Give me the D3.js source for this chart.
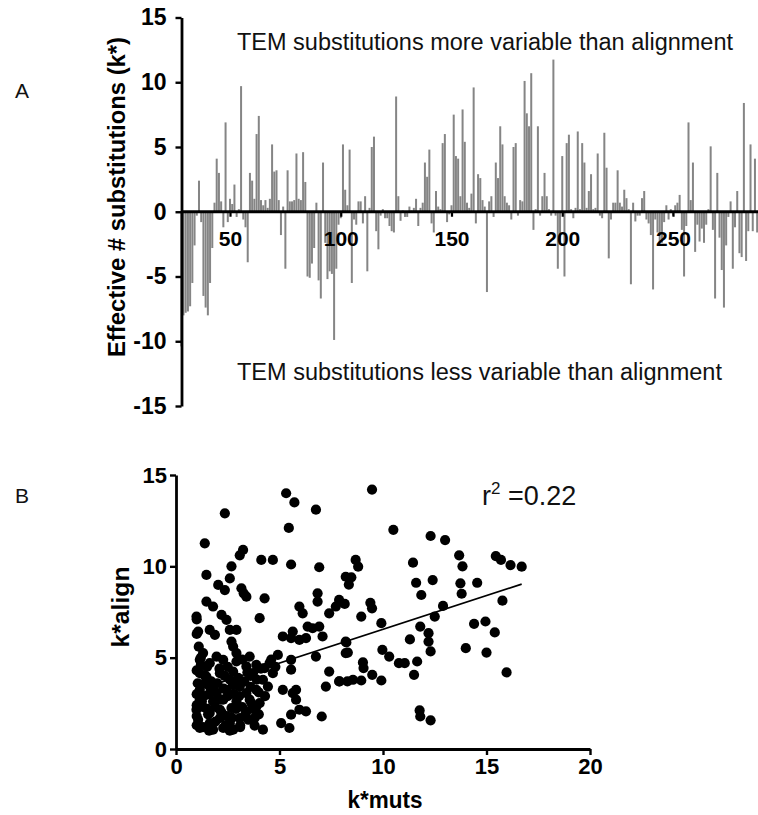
<!DOCTYPE html>
<html><head><meta charset="utf-8">
<script src="https://cdn.jsdelivr.net/npm/d3@7"></script>
<style>body{margin:0;background:#fff}svg{display:block}</style>
</head><body>
<svg id="c" width="758" height="815"></svg>
<script>
// ---------- Panel A data ----------
const firstResidue = 28;
const kStar = [
 -10.4,-8.0,-7.8,-7.7,-7.3,-5.5,-2.6,-0.3,2.4,-0.8,
 -6.5,-7.4,-8.0,-5.5,-2.8,0.7,4.1,3.0,0.8,-1.2,
 6.9,-0.8,1.0,0.6,2.1,-0.4,0.2,9.7,-0.6,-1.2,
 -3.9,3.0,2.4,1.0,6.0,7.4,0.9,0.5,0.9,0.3,
 1.0,5.2,3.1,3.2,0.9,-1.8,0.4,-4.4,3.2,0.8,
 0.8,0.9,4.5,1.0,0.9,4.6,2.3,-5.0,-5.1,-4.0,
 -2.8,0.7,-5.3,-6.7,3.8,-2.4,-5.2,-4.6,-4.8,-9.9,
 -4.4,-1.0,-0.5,5.2,1.7,0.5,4.8,-5.5,-0.6,-1.0,
 0.8,0.8,-0.9,1.2,-4.6,0.3,5.0,5.8,-1.5,-2.9,
 -0.3,0.2,-0.5,-0.5,-1.1,-1.5,-1.6,8.9,1.2,-0.7,
 0.1,-0.4,-0.4,0.4,0.1,0.3,1.0,-1.1,0.3,0.7,
 3.8,2.7,4.8,-0.9,-1.6,1.6,0.4,0.2,5.3,6.0,
 -0.8,-0.2,0.5,7.5,4.3,4.1,1.2,7.9,5.4,0.7,
 0.3,1.4,9.6,-0.9,2.9,2.6,0.9,0.4,-6.2,0.8,
 1.2,-0.4,3.8,2.6,6.6,5.2,1.2,0.7,0.5,-0.6,
 5.0,5.3,-0.3,0.9,0.8,10.1,7.6,6.6,10.7,-1.4,
 0.2,6.6,-0.3,1.2,3.0,1.2,0.2,-0.3,11.75,-0.3,
 -4.4,-2.5,4.3,-5.0,5.3,5.95,0.2,-0.5,0.3,6.2,
 0.2,5.3,3.8,0.3,1.6,2.9,0.2,0.3,4.5,-0.3,
 -0.5,6.1,3.4,-3.6,-0.6,0.7,0.7,3.2,0.7,0.4,
 1.7,1.05,0.2,-5.6,0.7,-0.75,-0.3,-0.3,1.05,1.6,
 -0.6,-0.9,-1.8,-6.0,-0.6,-1.6,-2.4,-2.4,-0.8,0.5,
 -0.6,0.2,-0.3,0.5,0.7,1.3,-1.4,-5.0,-1.1,6.9,
 0.9,3.8,-3.1,-1.0,-2.3,-1.3,-2.4,-1.0,0.2,5.05,
 -1.4,-6.7,3.0,-2.0,-4.5,-7.4,-2.6,-0.4,0.8,-4.4,
 -1.2,1.6,-3.2,-3.5,8.4,-3.8,-1.5,5.2,-1.5,4.1,
 -1.6
];
const xTicksA = [50, 100, 150, 200, 250];
const yTicksA = [-15, -10, -5, 0, 5, 10, 15];
const noteUp = "TEM substitutions more variable than alignment";
const noteDown = "TEM substitutions less variable than alignment";
const yLabelA = "Effective # substitutions (k*)";

// ---------- Panel B data ----------
const kMuts = [
 9.47,10.5,12.3,13.0,8.68,8.8,11.45,13.68,13.84,15.45,15.7,16.16,16.7,8.47,8.35,11.6,12.4,13.74,14.55,13.8,
 11.85,8.15,9.39,9.47,15.77,12.9,8.95,9.92,12.5,11.8,12.2,14.4,14.95,15.4,8.23,11.3,12.2,12.3,8.3,9.97,
 10.3,14.0,15.0,9.03,9.06,10.77,11.05,11.65,11.5,7.9,8.55,8.95,9.48,9.92,15.97,11.77,11.8,12.3,
 5.32,5.72,6.76,2.36,5.45,1.39,3.24,3.08,4.12,4.68,5.56,6.92,2.68,1.47,2.6,8.2,2.04,2.36,3.16,3.27,
 3.4,4.28,6.84,6.84,7.88,1.47,1.79,0.99,2.2,2.44,4.04,5.96,6.12,6.36,7.4,7.72,1.07,1.63,1.88,2.6,
 2.92,2.68,2.76,5.16,5.56,5.96,6.28,6.6,6.92,7.08,8.2,5.64,4.92,4.52,3.56,2.92,1.31,1.96,2.28,1.15,
 1.63,2.92,3.4,3.88,4.28,4.68,5.56,5.56,6.76,8.2,7.4,7.88,7.24,8.28,1.15,1.47,2.12,2.76,3.72,4.2,
 4.44,1.15,1.63,1.96,2.44,3.08,3.4,3.88,1.15,1.79,2.28,2.92,3.56,4.04,0.99,1.63,2.12,2.68,3.4,3.88,
 1.07,1.63,2.12,2.6,3.08,1.15,1.79,2.28,2.76,3.8,4.2,5.08,5.48,5.16,5.64,5.8,5.96,5.56,6.28,7.04,5.8,
 1.0,1.0,1.0,1.0,1.05,1.0,1.3,1.3,1.35,1.4,1.5,1.6,1.7,1.9,1.9,2.0,2.2,2.3,2.4,2.5,
 2.6,2.7,2.8,2.9,3.0,3.1,3.2,3.3,3.5,3.6,3.7,3.9,4.0,4.1,4.3,1.2,1.5,2.5,3.2,2.1,
 3.6,4.6,4.8,1.0,1.0,1.1,
 1.25,1.55,1.85,2.15,2.45,2.75,3.05,3.35,3.65,1.4,1.75,2.35,2.95,3.45,4.0,1.2,1.6,2.6,3.1,3.8
];
const kAlign = [
 14.2,12.0,11.66,11.44,10.35,9.98,10.2,10.6,10.0,10.56,10.35,10.07,9.98,9.4,9.0,9.1,9.25,9.07,9.1,8.5,
 8.43,7.94,8.0,7.7,8.12,7.83,7.25,6.89,7.25,6.7,6.34,6.85,6.98,6.38,5.83,6.0,5.88,5.34,5.28,5.43,
 5.06,5.52,5.28,4.74,4.43,4.7,4.7,4.79,4.06,3.7,3.79,3.75,4.06,3.75,4.19,2.11,1.78,1.57,
 14.0,13.5,13.1,12.9,12.1,11.26,10.9,10.6,10.35,10.35,10.1,9.95,10.0,9.53,9.34,9.43,8.98,8.7,8.8,8.52,
 8.34,8.25,8.52,8.07,8.16,8.07,7.8,7.25,7.34,7.07,7.16,7.8,7.43,6.7,7.43,7.8,6.43,6.52,6.25,6.52,
 6.52,5.88,5.61,6.16,6.07,5.97,6.07,6.61,6.7,6.16,5.88,6.43,5.15,4.7,5.06,5.25,5.25,5.06,4.88,4.88,
 4.7,4.79,4.52,4.61,4.43,4.15,4.88,4.34,5.06,5.25,4.24,3.7,3.42,3.7,4.15,3.97,4.15,4.24,4.15,3.79,
 3.42,3.24,3.42,3.06,3.24,3.42,3.06,3.24,2.7,2.6,2.7,2.6,2.7,2.51,2.15,1.97,2.15,2.24,2.06,2.33,
 1.6,1.42,1.69,1.42,1.69,1.15,1.06,1.15,1.06,1.28,1.06,1.42,1.15,3.24,3.06,2.7,2.15,1.88,2.06,1.78,3.24,
 1.3,1.8,2.4,3.0,3.6,4.3,1.2,2.3,2.9,3.6,2.2,3.0,3.7,1.5,2.3,3.6,2.0,3.3,1.3,2.9,
 3.8,1.7,3.0,2.2,3.9,1.3,2.3,3.7,1.6,3.4,2.2,3.8,1.9,4.4,2.9,5.0,4.5,4.5,4.9,4.4,
 4.0,4.9,4.5,6.3,7.1,5.6,
 2.6,1.9,3.2,2.7,1.8,3.5,2.9,1.9,2.5,4.0,3.3,4.0,3.5,4.2,3.1,4.6,1.0,1.0,1.2,1.7
];
const xTicksB = [0, 5, 10, 15, 20];
const yTicksB = [0, 5, 10, 15];
const fitSlope = 0.37, fitIntercept = 2.85, fitRange = [1.16, 16.7];
const r2Text = "=0.22";

// ---------- Drawing ----------
const W = 758, H = 815;
const svg = d3.select("#c");
const FONT = "'Liberation Sans', Arial, sans-serif";
const fmt = d => String(d);

// Panel A scales
const xA = d3.scaleLinear().domain([50, 250]).range([230, 673]);
const yA = d3.scaleLinear().domain([-15, 15]).range([406, 17.5]);
const axisXA = 181.5;
const barW = 2.0;

const gA = svg.append("g");
gA.selectAll("rect.bar").data(kStar).join("rect")
  .attr("class", "bar")
  .attr("x", (d, i) => xA(firstResidue + i) - barW / 2)
  .attr("width", barW)
  .attr("y", d => Math.min(yA(d), yA(0)))
  .attr("height", d => Math.abs(yA(d) - yA(0)))
  .attr("fill", "#858585");

// zero line / x axis
const xAxA = gA.append("g").attr("transform", `translate(0,${yA(0)})`)
  .call(d3.axisBottom(xA).tickValues(xTicksA).tickFormat(fmt).tickSize(5).tickPadding(14).tickSizeOuter(0));
xAxA.select(".domain").remove();
xAxA.append("line").attr("x1", axisXA).attr("x2", W).attr("y1", 0).attr("y2", 0)
  .attr("stroke", "#000").attr("stroke-width", 2.8);
xAxA.selectAll(".tick line").attr("stroke", "#000").attr("stroke-width", 2.2);
xAxA.selectAll(".tick text").attr("font-family", FONT).attr("font-size", 21)
  .attr("font-weight", "bold").attr("fill", "#000");

const yAxA = gA.append("g").attr("transform", `translate(${axisXA},0)`)
  .call(d3.axisLeft(yA).tickValues(yTicksA).tickFormat(fmt).tickSize(6).tickPadding(9).tickSizeOuter(0));
yAxA.select(".domain").attr("stroke", "#000").attr("stroke-width", 2.8);
yAxA.selectAll(".tick line").attr("stroke", "#000").attr("stroke-width", 2.4);
yAxA.selectAll(".tick text").attr("font-family", FONT).attr("font-size", 23)
  .attr("font-weight", "bold").attr("fill", "#000");

gA.append("text").attr("transform", "translate(125,197) rotate(-90)")
  .attr("text-anchor", "middle").attr("font-family", FONT).attr("font-size", 24)
  .attr("font-weight", "bold").attr("textLength", 320).attr("lengthAdjust", "spacingAndGlyphs")
  .text(yLabelA);

gA.append("text").attr("x", 237).attr("y", 50).attr("font-family", FONT)
  .attr("font-size", 23).attr("textLength", 496).attr("lengthAdjust", "spacingAndGlyphs")
  .attr("fill", "#111").text(noteUp);
gA.append("text").attr("x", 237).attr("y", 380).attr("font-family", FONT)
  .attr("font-size", 23).attr("textLength", 485).attr("lengthAdjust", "spacingAndGlyphs")
  .attr("fill", "#111").text(noteDown);

svg.append("text").attr("x", 15).attr("y", 98).attr("font-family", FONT)
  .attr("font-size", 21).attr("fill", "#111").text("A");
svg.append("text").attr("x", 15).attr("y", 503).attr("font-family", FONT)
  .attr("font-size", 21).attr("fill", "#111").text("B");

// Panel B
const xB = d3.scaleLinear().domain([0, 20]).range([176, 590]);
const yB = d3.scaleLinear().domain([0, 15]).range([749, 475]);
const gB = svg.append("g");

const pts = kMuts.map((x, i) => [x, kAlign[i]]);
gB.selectAll("circle").data(pts).join("circle")
  .attr("cx", d => xB(d[0])).attr("cy", d => yB(d[1])).attr("r", 5.1).attr("fill", "#000");

gB.append("line")
  .attr("x1", xB(fitRange[0])).attr("y1", yB(fitIntercept + fitSlope * fitRange[0]))
  .attr("x2", xB(fitRange[1])).attr("y2", yB(fitIntercept + fitSlope * fitRange[1]))
  .attr("stroke", "#000").attr("stroke-width", 1.7);

const xAxB = gB.append("g").attr("transform", `translate(0,${yB(0)})`)
  .call(d3.axisBottom(xB).tickValues(xTicksB).tickFormat(fmt).tickSize(6).tickPadding(3).tickSizeOuter(0));
xAxB.select(".domain").attr("stroke", "#000").attr("stroke-width", 2.8);
xAxB.selectAll(".tick line").attr("stroke", "#000").attr("stroke-width", 2.4);
xAxB.selectAll(".tick text").attr("font-family", FONT).attr("font-size", 22)
  .attr("font-weight", "bold").attr("fill", "#000");

const yAxB = gB.append("g").attr("transform", `translate(${xB(0)},0)`)
  .call(d3.axisLeft(yB).tickValues(yTicksB).tickFormat(fmt).tickSize(6).tickPadding(3).tickSizeOuter(0));
yAxB.select(".domain").attr("stroke", "#000").attr("stroke-width", 2.8);
yAxB.selectAll(".tick line").attr("stroke", "#000").attr("stroke-width", 2.4);
yAxB.selectAll(".tick text").attr("font-family", FONT).attr("font-size", 22)
  .attr("font-weight", "bold").attr("fill", "#000");

gB.append("text").attr("transform", "translate(129,607) rotate(-90)")
  .attr("text-anchor", "middle").attr("font-family", FONT).attr("font-size", 24)
  .attr("font-weight", "bold").attr("textLength", 81).attr("lengthAdjust", "spacingAndGlyphs")
  .text("k*align");
gB.append("text").attr("x", 385).attr("y", 808)
  .attr("text-anchor", "middle").attr("font-family", FONT).attr("font-size", 23)
  .attr("font-weight", "bold").attr("textLength", 75).attr("lengthAdjust", "spacingAndGlyphs")
  .text("k*muts");

const r2t = gB.append("text").attr("x", 482).attr("y", 505).attr("font-family", FONT)
  .attr("font-size", 27).attr("fill", "#111");
r2t.append("tspan").text("r");
r2t.append("tspan").attr("font-size", 17).attr("dy", -11).text("2");
r2t.append("tspan").attr("dy", 11).text(" " + r2Text);
</script>
</body></html>
